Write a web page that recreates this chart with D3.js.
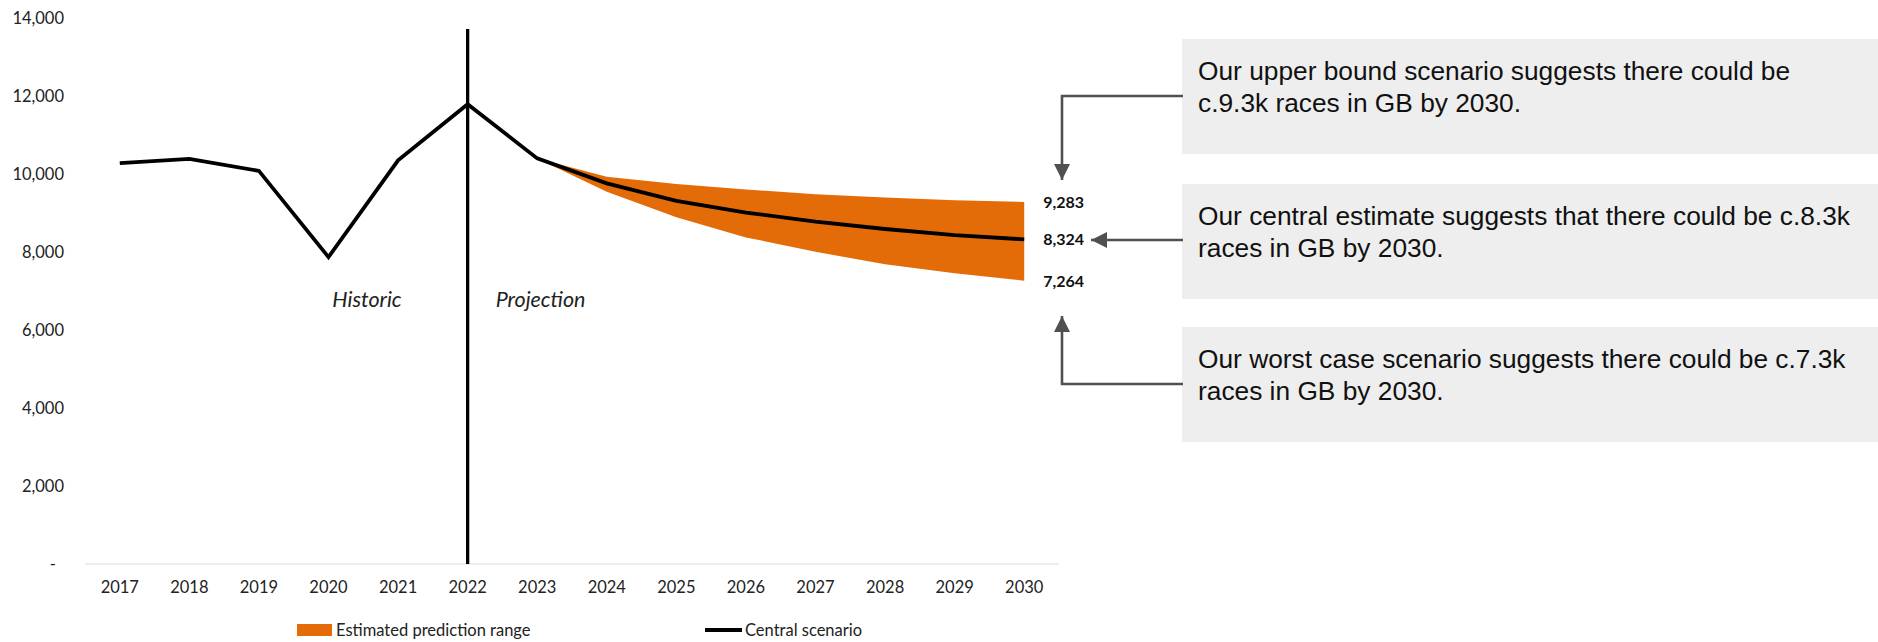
<!DOCTYPE html>
<html>
<head>
<meta charset="utf-8">
<script src="https://cdn.jsdelivr.net/npm/d3@7/dist/d3.min.js"></script>
<style>
  html, body { margin: 0; padding: 0; background: #fff; }
  svg { display: block; }
</style>
</head>
<body>
<svg id="chart" width="1878" height="642"></svg>
<script>
// ---- data ----
const years = [2017, 2018, 2019, 2020, 2021, 2022, 2023, 2024, 2025, 2026, 2027, 2028, 2029, 2030];
const central = [10280, 10390, 10080, 7870, 10350, 11790, 10400, 9760, 9310, 9010, 8780, 8590, 8430, 8324];
const projYears = [2023, 2024, 2025, 2026, 2027, 2028, 2029, 2030];
const upper = [10400, 9930, 9745, 9605, 9480, 9400, 9325, 9283];
const lower = [10400, 9545, 8890, 8375, 8005, 7685, 7455, 7264];
const yTicks = [0, 2000, 4000, 6000, 8000, 10000, 12000, 14000];
const dividerYear = 2022;
const dividerTop = 13720;
const endLabels = [9283, 8324, 7264];
const periodLabels = ["Historic", "Projection"];
const legendLabels = ["Estimated prediction range", "Central scenario"];
const boxTexts = [
  ["Our upper bound scenario suggests there could be", "c.9.3k races in GB by 2030."],
  ["Our central estimate suggests that there could be c.8.3k", "races in GB by 2030."],
  ["Our worst case scenario suggests there could be c.7.3k", "races in GB by 2030."]
];

// ---- layout ----
const svg = d3.select("#chart");
const orange = "#E36C09";
const arrowGrey = "#505050";
const labelFont = "Lato, 'Open Sans', sans-serif";

const x = d3.scalePoint().domain(years).range([85, 1059]).padding(0.5);
const y = d3.scaleLinear().domain([0, 14000]).range([564, 18]);

// y axis labels
const fmt = d3.format(",");
svg.append("g").selectAll("text").data(yTicks).join("text")
  .attr("x", d => d === 0 ? 56 : 64)
  .attr("y", d => y(d))
  .attr("dy", "0.35em")
  .attr("text-anchor", "end")
  .attr("font-family", labelFont)
  .attr("font-size", 16.5)
  .attr("fill", "#222")
  .text(d => d === 0 ? "-" : fmt(d));

// x axis baseline
svg.append("line")
  .attr("x1", 85).attr("x2", 1059)
  .attr("y1", y(0)).attr("y2", y(0))
  .attr("stroke", "#d9d9d9").attr("stroke-width", 1.2);

// x labels
svg.append("g").selectAll("text").data(years).join("text")
  .attr("x", d => x(d))
  .attr("y", 587)
  .attr("dy", "0.35em")
  .attr("text-anchor", "middle")
  .attr("font-family", labelFont)
  .attr("font-size", 16.5)
  .attr("fill", "#222")
  .text(d => d);

// prediction range area
const areaData = projYears.map((yr, i) => ({ yr, lo: lower[i], hi: upper[i] }));
svg.append("path")
  .datum(areaData)
  .attr("fill", orange)
  .attr("d", d3.area().x(d => x(d.yr)).y0(d => y(d.lo)).y1(d => y(d.hi)));

// divider line
svg.append("line")
  .attr("x1", x(dividerYear)).attr("x2", x(dividerYear))
  .attr("y1", y(dividerTop)).attr("y2", y(0))
  .attr("stroke", "#000").attr("stroke-width", 3.3);

// central line
const lineData = years.map((yr, i) => ({ yr, v: central[i] }));
svg.append("path")
  .datum(lineData)
  .attr("fill", "none")
  .attr("stroke", "#000")
  .attr("stroke-width", 3.8)
  .attr("stroke-linejoin", "miter")
  .attr("d", d3.line().x(d => x(d.yr)).y(d => y(d.v)));

// period labels
svg.append("text")
  .attr("x", x(dividerYear) - 66).attr("y", 307)
  .attr("text-anchor", "end")
  .attr("font-family", labelFont).attr("font-style", "italic")
  .attr("font-size", 21.5).attr("fill", "#222")
  .text(periodLabels[0]);
svg.append("text")
  .attr("x", x(dividerYear) + 28).attr("y", 307)
  .attr("text-anchor", "start")
  .attr("font-family", labelFont).attr("font-style", "italic")
  .attr("font-size", 21.5).attr("fill", "#222")
  .text(periodLabels[1]);

// end value labels
svg.append("g").selectAll("text").data(endLabels).join("text")
  .attr("x", x(2030) + 19)
  .attr("y", d => y(d))
  .attr("dy", "0.38em")
  .attr("font-family", labelFont)
  .attr("font-weight", "bold")
  .attr("font-size", 16)
  .attr("fill", "#111")
  .text(d => fmt(d));

// text boxes
const boxX = 1182, boxW = 720, boxH = 115;
const boxTops = [39, 184, 327];
boxTexts.forEach((lines, i) => {
  const g = svg.append("g").attr("transform", `translate(${boxX},${boxTops[i]})`);
  g.append("rect").attr("width", boxW).attr("height", boxH).attr("fill", "#eeeeee");
  lines.forEach((t, j) => {
    g.append("text")
      .attr("x", 16).attr("y", 41 + j * 32)
      .attr("font-family", "'Liberation Sans', Arial, sans-serif")
      .attr("font-size", 26.3)
      .attr("fill", "#111")
      .text(t);
  });
});

// arrows
const defs = svg.append("defs");
defs.append("marker")
  .attr("id", "arrow")
  .attr("viewBox", "0 0 10 10")
  .attr("refX", 10).attr("refY", 5)
  .attr("markerUnits", "userSpaceOnUse")
  .attr("markerWidth", 16).attr("markerHeight", 16)
  .attr("orient", "auto")
  .append("path").attr("d", "M0,0 L10,5 L0,10 Z").attr("fill", arrowGrey);

const arrowPaths = [
  [[1183, 96], [1062, 96], [1062, 180]],
  [[1183, 240], [1091, 240]],
  [[1183, 384], [1062, 384], [1062, 316]]
];
arrowPaths.forEach(pts => {
  svg.append("path")
    .attr("d", d3.line()(pts))
    .attr("fill", "none")
    .attr("stroke", arrowGrey)
    .attr("stroke-width", 2.6)
    .attr("marker-end", "url(#arrow)");
});

// legend
const legendY = 630;
const lg = svg.append("g");
lg.append("rect").attr("x", 297).attr("y", legendY - 6).attr("width", 35).attr("height", 12).attr("fill", orange);
lg.append("text").attr("x", 336).attr("y", legendY).attr("dy", "0.35em")
  .attr("font-family", labelFont).attr("font-size", 16.5).attr("fill", "#222")
  .text(legendLabels[0]);
lg.append("line").attr("x1", 705).attr("x2", 742).attr("y1", legendY).attr("y2", legendY)
  .attr("stroke", "#000").attr("stroke-width", 3.8);
lg.append("text").attr("x", 745).attr("y", legendY).attr("dy", "0.35em")
  .attr("font-family", labelFont).attr("font-size", 16.5).attr("fill", "#222")
  .text(legendLabels[1]);
</script>
</body>
</html>
